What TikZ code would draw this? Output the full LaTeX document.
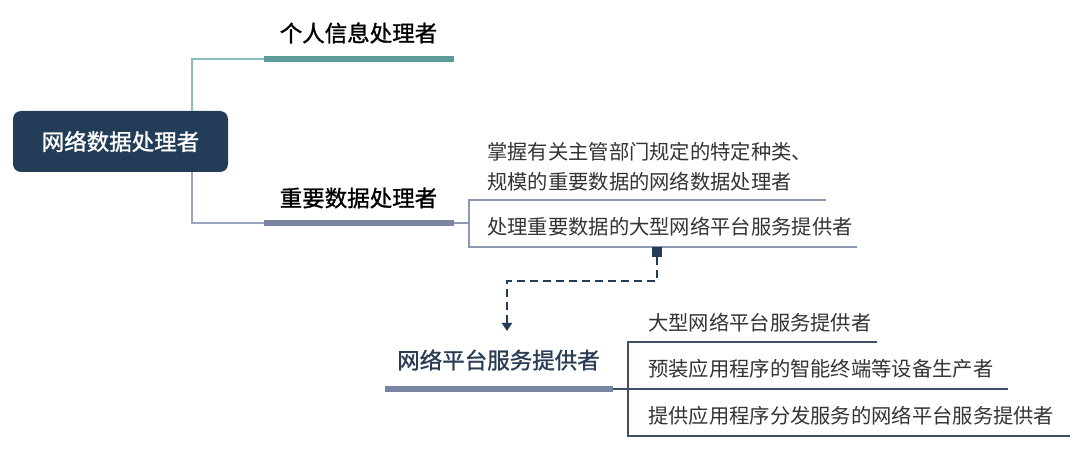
\documentclass[tikz,border=0pt]{standalone}
\usepackage{fontspec}
\newfontfamily\cjk{Noto Sans CJK SC}
\newfontfamily\cjkmed[FakeBold=1.2]{Noto Sans CJK SC}
\usepackage{tikz}
\usetikzlibrary{positioning, arrows.meta, calc}

\definecolor{rootnavy}{HTML}{233D59}
\definecolor{tealline}{HTML}{8CBDBC}
\definecolor{tealbar}{HTML}{5E9C9B}
\definecolor{slateline}{HTML}{9AA3BF}
\definecolor{slatebar}{HTML}{7A84A3}
\definecolor{bracketlight}{HTML}{8E97B2}
\definecolor{bracketdark}{HTML}{3F4F69}
\definecolor{itemgrey}{HTML}{333333}
\definecolor{headnavy}{HTML}{2B3D55}

\tikzset{
  rootbox/.style={fill=rootnavy, text=white, rounded corners=8pt,
    minimum width=215pt, minimum height=61pt, inner sep=0pt,
    font=\cjkmed\fontsize{22.5}{26}\selectfont},
  headtext/.style={inner sep=0pt, text=black,
    font=\cjkmed\fontsize{22.5}{26}\selectfont},
  itemtext/.style={inner sep=0pt, anchor=west, text=itemgrey,
    font=\cjk\fontsize{20.3}{30}\selectfont},
  bar/.style={line width=6pt},
  link/.style={line width=1.5pt},
}

\begin{document}
\begin{tikzpicture}[x=1pt, y=-1pt]

  \useasboundingbox (0,0) rectangle (1080,449);

  % --- Root ---
  \node[rootbox] (root) at (120.5,141.5) {网络数据处理者};
  \coordinate (split) at (192,141.5);

  % --- Branch 1: personal information ---
  \node[headtext] (pinfo) at (358.5,33) {个人信息处理者};
  \coordinate (pinfoL) at (264,59);
  \coordinate (pinfoR) at (454,59);
  \draw[link, tealline] (root.north -| split) |- (pinfoL);
  \draw[bar, tealbar] (pinfoL) -- (pinfoR);

  % --- Branch 2: important data ---
  \node[headtext] (imp) at (358.5,198) {重要数据处理者};
  \coordinate (impL) at (264,223);
  \coordinate (impR) at (454,223);
  \draw[link, slateline] (root.south -| split) |- (impL);
  \draw[bar, slatebar] (impL) -- (impR);

  % items of branch 2
  \coordinate (impB) at (469,223);
  \coordinate (impT1) at (469,200);
  \coordinate (impT2) at (469,247);
  \draw[link, bracketlight] (impR) -- (impB);
  \draw[link, bracketlight] (826,200) -- (impT1) -- (impT2) -- (857,247);
  \node[itemtext] (imp1) at (487,152) {掌握有关主管部门规定的特定种类、};
  \node[itemtext] (imp2) at (487,182) {规模的重要数据的网络数据处理者};
  \node[itemtext] (imp3) at (487,227) {处理重要数据的大型网络平台服务提供者};

  % --- Dashed link down to platform providers ---
  \node[fill=rootnavy, minimum size=10pt, inner sep=0pt] (mark) at (657,252) {};
  \coordinate (turn) at (507,281);
  \coordinate (tip) at (507,331);
  \draw[rootnavy, line width=2.2pt, dash pattern=on 8pt off 5pt,
    -{Triangle[length=8pt, width=10pt]}]
    (mark.south) |- (turn) -- (tip);

  % --- Branch 3: network platform providers ---
  \node[headtext, text=headnavy] (plat) at (498.5,360) {网络平台服务提供者};
  \coordinate (platL) at (385,389);
  \coordinate (platR) at (613,389);
  \draw[bar, slatebar] (platL) -- (platR);

  % items of branch 3
  \coordinate (platB) at (628,389);
  \coordinate (platT1) at (628,342);
  \coordinate (platT2) at (628,436);
  \draw[link, bracketdark] (platR) -- (platB) -- (1008,389);
  \draw[link, bracketdark] (877,342) -- (platT1) -- (platT2) -- (1070,436);
  \node[itemtext] (plat1) at (648,323) {大型网络平台服务提供者};
  \node[itemtext] (plat2) at (648,369) {预装应用程序的智能终端等设备生产者};
  \node[itemtext] (plat3) at (648,416) {提供应用程序分发服务的网络平台服务提供者};

\end{tikzpicture}
\end{document}
